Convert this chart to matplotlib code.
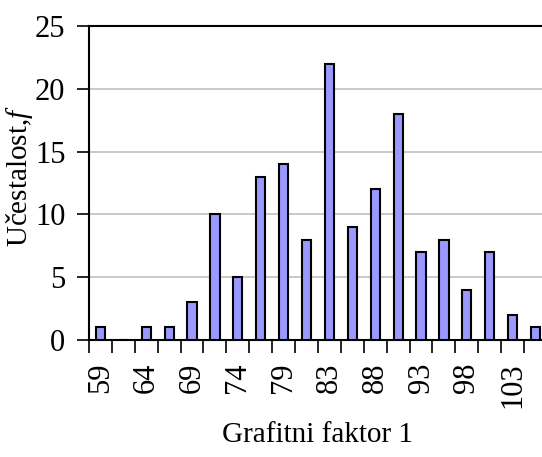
import matplotlib
matplotlib.use("Agg")
import matplotlib.pyplot as plt
import numpy as np

# Grafitni faktor 1 - class labels (every other class labelled)
classes = ["59", "61", "64", "66", "69", "71", "74", "76", "79", "81",
           "83", "86", "88", "91", "93", "96", "98", "100", "103", "105"]
frequency = [1, 0, 1, 1, 3, 10, 5, 13, 14, 8,
             22, 9, 12, 18, 7, 8, 4, 7, 2, 1]
y_ticks = [0, 5, 10, 15, 20, 25]

plt.rcParams['font.family'] = ['Liberation Serif', 'DejaVu Serif']
plt.rcParams['mathtext.fontset'] = 'custom'
plt.rcParams['mathtext.rm'] = 'Liberation Serif'
plt.rcParams['mathtext.it'] = 'Liberation Serif:italic'

fig = plt.figure(figsize=(5.42, 4.57), dpi=100)
ax = fig.add_axes([0.1642, 0.256, 0.845, 0.687])

x = np.arange(len(classes))
ax.bar(x, frequency, width=0.4, color="#9999FF", edgecolor="black",
       linewidth=1.5, zorder=3)

ax.set_xlim(-0.5, len(classes) - 0.5)
ax.set_ylim(0, 25)
ax.set_yticks(y_ticks)
ax.set_yticklabels([str(v) for v in y_ticks], fontsize=22)
ax.yaxis.grid(True, color="#c0c0c0", linewidth=1.2, zorder=0)

ax.set_xticks(x[::2])
ax.set_xticklabels(classes[::2], rotation=90, fontsize=22)
ax.set_xticks(np.arange(-0.5, len(classes), 1.0), minor=True)
ax.tick_params(axis="x", which="major", length=0, pad=16)
ax.tick_params(axis="x", which="minor", length=9, width=1.2)
ax.tick_params(axis="y", length=9, width=1.2, pad=8)

for side in ["left", "top", "bottom"]:
    ax.spines[side].set_linewidth(1.5)
ax.spines["right"].set_visible(False)

ax.set_ylabel("Učestalost,$\\mathit{f}$", fontsize=21)
ax.yaxis.set_label_coords(-0.118, 0.522)
ax.set_xlabel("Grafitni faktor 1", fontsize=21, labelpad=10)

fig.savefig("out.png", dpi=100)
